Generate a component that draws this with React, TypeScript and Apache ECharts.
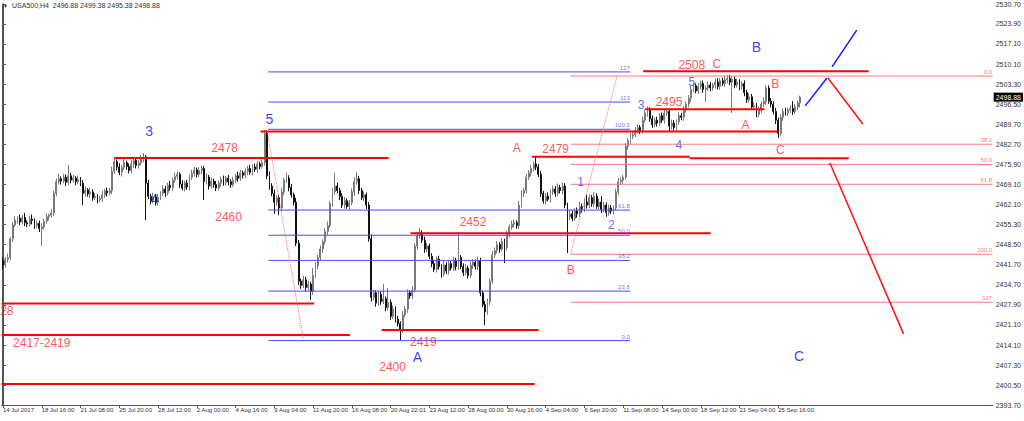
import React, { useEffect, useRef } from "react";
import * as echarts from "echarts";

// ---------- DATA ----------
const headerText = "USA500,H4  2496.88 2499.38 2495.38 2498.88";
const lastPrice = 2498.88;
const firstOpen = 2443.0;

const closes = [
  2441.5, 2443.5, 2444.0, 2450.5, 2455.2, 2456.9, 2457.5, 2456.2, 2457.8, 2456.0,
  2455.5, 2457.2, 2456.8, 2455.0, 2455.8, 2454.0, 2454.5, 2456.5, 2458.0, 2458.5,
  2459.3, 2466.0, 2470.0, 2471.0, 2470.2, 2471.5, 2469.8, 2472.0, 2470.5, 2471.2,
  2470.0, 2470.8, 2469.5, 2466.0, 2467.2, 2465.8, 2466.5, 2464.5, 2465.0, 2463.8,
  2464.2, 2465.5, 2466.8, 2466.2, 2467.0, 2473.5, 2476.8, 2475.0, 2473.2, 2474.8,
  2476.5, 2475.2, 2473.8, 2476.0, 2477.2, 2475.5, 2476.4, 2477.8, 2478.5, 2469.5,
  2465.0, 2463.5, 2464.8, 2463.0, 2464.5, 2466.0, 2467.5, 2466.2, 2468.8, 2468.0,
  2470.5, 2471.8, 2472.5, 2469.2, 2467.8, 2469.5, 2468.2, 2471.5, 2472.8, 2474.0,
  2472.5, 2473.8, 2474.5, 2470.0, 2471.6, 2468.5, 2470.2, 2469.0, 2467.8, 2469.5,
  2470.8, 2469.6, 2471.2, 2470.0, 2469.0, 2470.5, 2472.0, 2471.2, 2473.0, 2472.2,
  2473.5, 2474.5, 2473.2, 2475.0, 2474.2, 2476.0, 2475.2, 2476.5, 2486.5, 2472.0,
  2468.5, 2466.0, 2463.0, 2464.5, 2461.0, 2466.5, 2470.5, 2471.2, 2468.0, 2465.5,
  2463.0, 2449.0, 2436.0, 2434.5, 2436.5, 2433.8, 2435.0, 2432.5, 2438.0, 2441.2,
  2444.0, 2447.0, 2449.5, 2453.0, 2455.0, 2462.5, 2466.5, 2468.5, 2467.0, 2465.0,
  2462.0, 2463.5, 2461.5, 2462.8, 2466.5, 2470.0, 2471.0, 2467.0, 2464.5, 2465.5,
  2462.0, 2450.5, 2430.5, 2432.0, 2428.5, 2431.5, 2429.0, 2430.0, 2427.0, 2428.8,
  2424.0, 2426.5, 2423.0, 2421.5, 2419.5, 2424.5, 2426.5, 2432.0, 2431.0, 2433.0,
  2448.0, 2451.5, 2452.5, 2450.0, 2447.0, 2448.0, 2444.5, 2442.0, 2440.0, 2443.5,
  2441.0, 2438.5, 2441.5, 2439.5, 2442.0, 2440.5, 2443.0, 2441.0, 2444.0, 2441.0,
  2439.0, 2440.5, 2438.0, 2441.5, 2442.5, 2441.0, 2443.0, 2432.0, 2428.0, 2425.5,
  2429.0, 2436.0, 2445.0, 2446.5, 2448.5, 2447.0, 2449.5, 2447.5, 2452.0, 2454.5,
  2455.5, 2456.0, 2455.0, 2462.0, 2466.0, 2467.0, 2471.5, 2473.0, 2474.5, 2476.0,
  2475.0, 2472.5, 2466.0, 2463.5, 2465.0, 2464.0, 2466.5, 2467.5, 2466.0, 2468.0,
  2467.0, 2468.5, 2462.0, 2458.0, 2459.0, 2457.5, 2460.0, 2459.0, 2461.5, 2460.5,
  2463.0, 2462.0, 2464.5, 2462.5, 2465.0, 2461.5, 2463.0, 2460.5, 2462.0, 2459.5,
  2461.0, 2460.0, 2461.0, 2466.5, 2470.0, 2470.5, 2471.5, 2482.0, 2484.0, 2485.5,
  2486.0, 2487.5, 2488.5, 2487.5, 2491.0, 2493.5, 2494.5, 2491.5, 2489.5, 2491.0,
  2490.0, 2492.5, 2491.0, 2493.5, 2494.0, 2489.0, 2490.0, 2488.5, 2490.5, 2492.5,
  2492.0, 2494.5, 2496.5, 2498.5, 2501.5, 2502.8, 2501.0, 2502.5, 2503.5, 2501.5,
  2502.0, 2503.0, 2502.0, 2503.0, 2504.0, 2502.5, 2504.5, 2503.5, 2504.8, 2505.2,
  2504.0, 2505.0, 2503.0, 2504.0, 2502.5, 2503.5, 2500.5, 2498.0, 2499.0, 2495.5,
  2496.0, 2493.0, 2494.5, 2496.5, 2497.5, 2502.0, 2497.5, 2496.5, 2494.0, 2491.0,
  2486.5, 2492.0, 2494.0, 2493.5, 2494.5, 2495.0, 2494.0, 2495.5, 2496.88, 2498.88,
];

const upWicks = [
  1.2, 0.8, 1.5, 0.6, 1.0, 1.4, 0.7, 1.2, 0.9, 1.5,
  0.8, 1.1, 1.6, 0.7, 1.0, 0.9, 1.3, 0.8, 1.2, 0.6,
  1.4, 0.9, 1.1, 1.7, 0.8, 1.2, 1.0, 3.7, 0.9, 1.1,
  0.7, 1.3, 0.8, 1.0, 1.2, 0.6, 1.5, 0.9, 1.1, 0.8,
  1.0, 1.4, 0.7, 1.2, 0.9, 1.6, 1.1, 0.8, 1.3, 0.9,
  1.2, 0.7, 1.0, 1.4, 0.8, 1.1, 0.9, 1.3, 1.3, 0.6,
  1.1, 0.8, 1.4, 0.9, 1.2, 0.7, 1.3, 1.0, 0.8, 1.5,
  0.9, 1.2, 1.0, 0.7, 1.3, 0.8, 1.1, 0.9, 1.4, 1.0,
  0.8, 1.2, 1.0, 0.9, 1.3, 0.7, 1.1, 0.8, 1.2, 0.9,
  1.0, 1.3, 0.8, 1.1, 0.9, 1.2, 0.7, 1.4, 1.0, 0.8,
  1.1, 0.9, 1.3, 0.8, 1.2, 1.0, 0.7, 1.1, 1.2, 1.0,
  1.5, 1.0, 1.3, 0.8, 1.1, 1.4, 0.9, 1.8, 1.0, 1.2,
  0.8, 1.5, 1.1, 0.9, 1.4, 1.0, 1.2, 0.8, 2.5, 1.3,
  1.0, 1.2, 0.8, 1.1, 1.4, 1.0, 1.3, 4.5, 1.2, 0.9,
  1.1, 1.3, 0.8, 1.0, 1.2, 1.5, 2.3, 1.0, 0.9, 1.2,
  0.8, 1.0, 1.4, 1.1, 0.9, 1.3, 1.0, 5.0, 0.8, 4.9,
  1.0, 1.2, 0.9, 1.1, 0.8, 1.3, 1.0, 1.2, 0.9, 1.4,
  1.0, 1.3, 1.7, 0.9, 1.2, 1.0, 0.8, 1.1, 1.3, 0.9,
  1.2, 0.8, 1.4, 1.0, 1.1, 0.9, 1.3, 1.0, 8.8, 0.9,
  1.1, 1.3, 0.8, 1.2, 1.0, 0.9, 1.4, 1.0, 0.8, 1.2,
  1.1, 0.9, 1.3, 1.0, 1.2, 0.8, 1.1, 1.0, 1.3, 0.9,
  1.2, 1.0, 0.8, 1.4, 1.1, 0.9, 1.2, 1.0, 1.3, 0.9,
  2.5, 1.0, 1.2, 0.8, 1.1, 1.3, 0.9, 1.2, 1.0, 1.4,
  0.9, 1.2, 1.0, 0.8, 1.3, 1.1, 0.9, 1.2, 1.6, 1.0,
  1.3, 2.5, 1.1, 0.9, 1.4, 1.0, 1.2, 2.0, 1.1, 0.9,
  1.2, 1.0, 0.9, 1.1, 1.3, 1.0, 0.8, 1.2, 1.0, 1.1,
  0.9, 1.2, 1.0, 0.8, 1.3, 1.0, 1.2, 0.9, 1.1, 1.0,
  1.2, 0.8, 1.1, 1.0, 1.3, 0.9, 1.2, 1.0, 0.8, 1.1,
  1.0, 1.2, 0.9, 1.1, 1.3, 1.0, 0.8, 1.2, 1.0, 1.1,
  0.9, 1.2, 1.0, 0.8, 1.1, 1.3, 0.9, 1.0, 1.2, 1.1,
  1.3, 1.0, 0.9, 1.2, 1.0, 0.8, 1.1, 0.9, 1.2, 1.0,
  1.1, 0.9, 1.2, 1.0, 1.3, 1.0, 0.9, 1.1, 1.0, 1.2,
  0.9, 1.1, 1.0, 1.3, 0.8, 1.2, 2.5, 1.0, 0.9, 0.5,
];

const downWicks = [
  1.5, 0.9, 1.2, 0.8, 1.1, 0.7, 1.3, 1.0, 0.8, 1.2,
  1.0, 0.9, 1.4, 1.1, 0.8, 1.2, 6.0, 1.0, 0.9, 1.3,
  0.8, 1.1, 1.0, 0.9, 1.2, 0.8, 1.3, 1.0, 1.1, 0.9,
  1.2, 0.8, 1.0, 4.0, 1.1, 0.9, 1.3, 1.0, 0.8, 1.2,
  0.9, 1.1, 1.0, 1.3, 0.8, 1.2, 0.9, 1.1, 1.0, 1.4,
  0.8, 1.2, 1.0, 0.9, 1.3, 1.0, 1.1, 0.8, 1.2, 12.6,
  1.0, 1.3, 0.9, 1.1, 1.2, 0.8, 1.0, 1.4, 0.9, 1.1,
  1.2, 0.9, 1.0, 1.3, 0.8, 1.1, 1.0, 1.2, 0.9, 1.0,
  1.1, 0.9, 1.3, 6.2, 1.0, 1.2, 0.8, 1.1, 1.0, 0.9,
  1.2, 1.0, 0.9, 1.3, 1.1, 0.8, 1.0, 1.2, 0.9, 1.1,
  1.0, 1.3, 0.8, 1.1, 0.9, 1.2, 1.0, 0.8, 1.0, 1.2,
  1.3, 1.0, 4.0, 1.2, 2.5, 0.9, 1.1, 1.0, 1.3, 0.9,
  1.2, 1.0, 1.4, 1.1, 0.9, 1.3, 1.0, 2.9, 1.2, 0.8,
  1.1, 0.9, 1.3, 1.0, 1.2, 0.8, 1.1, 1.0, 0.9, 1.3,
  1.0, 1.2, 0.8, 1.1, 0.9, 1.3, 1.0, 1.2, 0.8, 1.1,
  1.3, 1.0, 1.5, 0.9, 1.2, 1.0, 1.1, 0.8, 1.3, 1.0,
  1.2, 0.9, 1.1, 1.0, 3.6, 1.2, 0.9, 1.3, 1.0, 1.1,
  0.8, 1.2, 1.0, 0.9, 1.3, 1.1, 1.0, 1.2, 0.8, 1.1,
  1.0, 1.3, 0.9, 1.1, 1.2, 0.8, 1.0, 1.3, 1.1, 0.9,
  1.2, 1.0, 1.1, 0.9, 1.3, 1.0, 1.2, 1.1, 0.9, 4.5,
  1.0, 1.2, 0.9, 1.1, 1.0, 1.3, 0.8, 5.3, 1.1, 1.0,
  0.9, 1.2, 1.0, 1.1, 0.8, 1.3, 1.0, 0.9, 1.2, 1.0,
  1.1, 0.9, 1.2, 1.0, 1.3, 0.8, 1.1, 1.0, 1.2, 0.9,
  1.0, 1.3, 1.1, 12.4, 1.2, 1.0, 0.9, 1.3, 1.0, 1.1,
  0.9, 1.2, 1.0, 1.1, 1.3, 0.8, 1.0, 1.2, 0.9, 1.5,
  1.1, 1.0, 1.2, 0.9, 1.1, 1.0, 1.3, 0.8, 1.0, 1.2,
  1.0, 0.9, 1.1, 1.2, 1.0, 0.8, 1.3, 1.0, 1.1, 0.9,
  1.2, 1.0, 0.9, 1.1, 1.0, 2.0, 1.2, 1.0, 0.9, 1.1,
  1.0, 1.2, 0.9, 1.1, 1.3, 1.0, 0.8, 1.1, 1.0, 1.2,
  4.3, 1.0, 1.1, 0.9, 1.2, 1.0, 1.1, 0.8, 1.0, 1.2,
  1.0, 10.5, 1.1, 0.9, 1.2, 1.0, 1.3, 1.1, 0.9, 1.0,
  1.2, 1.0, 0.9, 1.1, 1.0, 1.2, 0.9, 1.1, 1.0, 1.3,
  1.6, 1.0, 1.2, 0.9, 1.1, 1.0, 1.2, 0.9, 1.0, 1.5,
];

const categoryCount = 409;
const xTickEvery = 16;
const xTickLabels = [
  "14 Jul 2017", "18 Jul 16:00", "21 Jul 08:00", "25 Jul 20:00", "28 Jul 12:00",
  "2 Aug 00:00", "4 Aug 16:00", "9 Aug 04:00", "11 Aug 20:00", "16 Aug 08:00",
  "20 Aug 22:01", "23 Aug 12:00", "28 Aug 00:00", "30 Aug 16:00", "4 Sep 04:00",
  "6 Sep 20:00", "11 Sep 08:00", "14 Sep 00:00", "18 Sep 12:00", "21 Sep 04:00",
  "25 Sep 16:00",
];

const yMin = 2393.7;
const yMax = 2530.7;
const yTickValues = [
  2393.7, 2400.5, 2407.3, 2414.1, 2421.1, 2427.9, 2434.7, 2441.7, 2448.5, 2455.3,
  2462.1, 2469.1, 2475.9, 2482.7, 2489.7, 2496.5, 2503.3, 2510.1, 2517.1, 2523.9, 2530.7,
];

// horizontal support/resistance lines: [fromBar, toBar, price]
const redLevelLines = [
  [-0.5, 128.4, 2428.4],
  [-0.5, 143.2, 2417.6],
  [-0.5, 219.5, 2400.9],
  [45.9, 159.2, 2478.1],
  [106.3, 320.0, 2487.1],
  [156.3, 221.1, 2419.3],
  [168.2, 292.1, 2452.4],
  [218.3, 283.5, 2478.5],
  [283.5, 349.1, 2478.0],
  [265.0, 314.3, 2494.7],
  [264.2, 357.3, 2507.7],
];

// blue Fibonacci retracement
const blueFibRange = [109.5, 258.9];
const blueFibLabels = ["127", "113", "100.0", "61.8", "50.0", "38.2", "23.6", "0.0"];
const blueFibPrices = [2507.5, 2497.2, 2487.9, 2460.3, 2451.7, 2443.1, 2432.6, 2415.7];

// red Fibonacci retracement
const redFibRange = [234.3, 408.5];
const redFibLabels = ["0.0", "38.2", "50.0", "61.8", "100.0", "127"];
const redFibPrices = [2506.1, 2482.8, 2475.9, 2469.1, 2445.2, 2428.8];

// trend lines: [[bar, price], [bar, price]]
const dottedLines = [
  [[109.1, 2487.0], [123.9, 2416.6]],
  [[234.3, 2445.3], [253.5, 2506.1]],
];
const redArrows = [
  [[340.5, 2505.4], [354.9, 2489.7]],
  [[341.3, 2476.4], [371.7, 2418.0]],
];
const blueArrows = [
  [[331.1, 2495.9], [340.1, 2505.4]],
  [[342.2, 2509.2], [352.4, 2521.8]],
];

// text annotations: [text, bar, price]
const bigBlueTexts = [
  ["3", 60.3, 2487.3], ["4", 62.4, 2464.1], ["5", 110.0, 2491.4],
  ["A", 171.1, 2410.1], ["B", 311.0, 2516.0], ["C", 328.6, 2410.4],
];
const smallBlueTexts = [
  ["1", 238.4, 2469.9], ["2", 251.1, 2455.2], ["3", 263.4, 2496.2],
  ["4", 279.0, 2482.5], ["5", 284.3, 2504.1],
];
const redTexts = [
  ["2478", 91.5, 2481.5], ["2460", 93.1, 2457.9], ["2452", 194.0, 2456.2],
  ["2419", 173.5, 2415.2], ["2400", 160.8, 2406.7], ["2417-2419", 16.0, 2414.9],
  ["28", 1.6, 2425.8], ["A", 212.1, 2481.5], ["2479", 228.1, 2481.2],
  ["B", 234.3, 2439.8], ["2495", 274.9, 2497.2], ["2508", 284.3, 2509.9],
  ["C", 294.6, 2510.2], ["A", 306.5, 2489.4], ["B", 318.8, 2503.4], ["C", 320.8, 2480.8],
];

// ---------- COMPONENT ----------
const FONT = "Liberation Sans, Arial, sans-serif";

function buildCandles() {
  const out: number[][] = [];
  let prev = firstOpen;
  for (let i = 0; i < closes.length; i++) {
    const o = prev;
    const c = closes[i];
    const hi = Math.max(o, c) + upWicks[i];
    const lo = Math.min(o, c) - downWicks[i];
    out.push([o, c, lo, hi]);
    prev = c;
  }
  return out;
}

function lineSeries(points: number[][], color: string, width: number, type: string = "solid") {
  return {
    type: "line",
    xAxisIndex: 1,
    yAxisIndex: 0,
    data: points,
    showSymbol: false,
    symbol: "none",
    silent: true,
    z: 5,
    lineStyle: { color, width, type },
    emphasis: { disabled: true },
  };
}

function textSeries(items: any[], color: string, size: number, extraLabel: any = {}) {
  return {
    type: "scatter",
    xAxisIndex: 1,
    yAxisIndex: 0,
    symbol: "circle",
    symbolSize: 1,
    silent: true,
    z: 6,
    itemStyle: { color: "rgba(0,0,0,0)" },
    data: items.map((t) => ({ name: t[0], value: [t[1], t[2]] })),
    label: {
      show: true,
      position: "inside",
      formatter: (p: any) => p.name,
      color,
      fontSize: size,
      fontFamily: FONT,
      ...extraLabel,
    },
    emphasis: { disabled: true },
  };
}

export default function App() {
  const ref = useRef<HTMLDivElement>(null);
  useEffect(() => {
    if (!ref.current) return;
    const chart = echarts.init(ref.current, undefined, { renderer: "svg" });
    const categories = Array.from({ length: categoryCount }, (_, i) => String(i));
    const series: any[] = [];

    series.push({
      type: "candlestick",
      xAxisIndex: 0,
      yAxisIndex: 0,
      data: buildCandles(),
      barWidth: 1.4,
      z: 2,
      itemStyle: {
        color: "#c4c4c4",
        color0: "#111111",
        borderColor: "#7a7a7a",
        borderColor0: "#111111",
        borderWidth: 1,
      },
      markLine: {
        silent: true,
        symbol: "none",
        lineStyle: { color: "rgba(0,0,0,0)", width: 0 },
        data: [{ yAxis: lastPrice }],
        label: {
          show: true,
          position: "end",
          formatter: lastPrice.toFixed(2),
          backgroundColor: "#000",
          color: "#fff",
          fontSize: 7,
          fontFamily: FONT,
          padding: [1, 2, 1, 2],
          distance: 1,
        },
      },
    });

    for (const [a, b, p] of redLevelLines) {
      series.push(lineSeries([[a, p], [b, p]], "#ff0000", 2));
    }
    blueFibPrices.forEach((p) => series.push(lineSeries([[blueFibRange[0], p], [blueFibRange[1], p]], "#4a4aff", 1)));
    redFibPrices.forEach((p) => series.push(lineSeries([[redFibRange[0], p], [redFibRange[1], p]], "#ff7a7a", 1)));
    dottedLines.forEach((l) => series.push(lineSeries(l, "#ff6a6a", 1, "dotted")));
    redArrows.forEach((l) => series.push(lineSeries(l, "#ff1010", 1.5)));
    blueArrows.forEach((l) => series.push(lineSeries(l, "#1a1aff", 1.5)));

    series.push(textSeries(bigBlueTexts, "#0808ff", 14));
    series.push(textSeries(smallBlueTexts, "#4040ff", 12));
    series.push(textSeries(redTexts, "#ff2a2a", 12));
    series.push(
      textSeries(
        blueFibLabels.map((t, i) => [t, blueFibRange[1], blueFibPrices[i]]),
        "#4a4aff",
        6,
        { position: "left", distance: 0, offset: [0, -4] }
      )
    );
    series.push(
      textSeries(
        redFibLabels.map((t, i) => [t, redFibRange[1], redFibPrices[i]]),
        "#ff5050",
        6,
        { position: "left", distance: 0, offset: [0, -4] }
      )
    );

    chart.setOption({
      animation: false,
      backgroundColor: "#ffffff",
      grid: { left: 0, right: 27, top: 4, bottom: 16, containLabel: false },
      xAxis: [
        {
          type: "category",
          data: categories,
          boundaryGap: true,
          axisLine: { show: true, lineStyle: { color: "#555", width: 1 } },
          axisTick: {
            show: true,
            alignWithLabel: true,
            length: 3,
            interval: (idx: number) => idx % xTickEvery === 0 && idx / xTickEvery < xTickLabels.length,
            lineStyle: { color: "#555" },
          },
          axisLabel: {
            show: true,
            interval: (idx: number) => idx % xTickEvery === 0 && idx / xTickEvery < xTickLabels.length,
            formatter: (_v: string, idx: number) => xTickLabels[idx / xTickEvery] ?? "",
            align: "left",
            fontSize: 6,
            fontFamily: FONT,
            color: "#333",
            margin: 2,
            hideOverlap: false,
          },
          splitLine: { show: false },
        },
        {
          type: "value",
          min: -0.5,
          max: categoryCount - 0.5,
          show: false,
        },
      ],
      yAxis: [
        {
          type: "value",
          position: "right",
          min: yMin,
          max: yMax,
          axisLine: { show: true, lineStyle: { color: "#555", width: 1 } },
          axisTick: { show: true, length: 3, customValues: yTickValues, lineStyle: { color: "#555" } },
          axisLabel: {
            show: true,
            customValues: yTickValues,
            formatter: (v: number) => v.toFixed(2),
            fontSize: 7,
            fontFamily: FONT,
            color: "#333",
            margin: 3,
          },
          splitLine: { show: false },
        },
        {
          type: "value",
          position: "left",
          min: yMin,
          max: yMax,
          axisLine: { show: true, lineStyle: { color: "#555", width: 1 } },
          axisTick: { show: false },
          axisLabel: { show: false },
          splitLine: { show: false },
        },
      ],
      graphic: [
        {
          type: "text",
          left: 3,
          top: 3,
          style: { text: "▼", fontSize: 5, fill: "#333", fontFamily: FONT },
        },
        {
          type: "text",
          left: 12,
          top: 2,
          style: { text: headerText, fontSize: 7, fill: "#333", fontFamily: FONT },
        },
      ],
      series,
    });
    return () => chart.dispose();
  }, []);
  return (
    <div
      ref={ref}
      style={{ position: "fixed", left: 0, top: 0, width: 1024, height: 421, background: "#fff" }}
    />
  );
}
